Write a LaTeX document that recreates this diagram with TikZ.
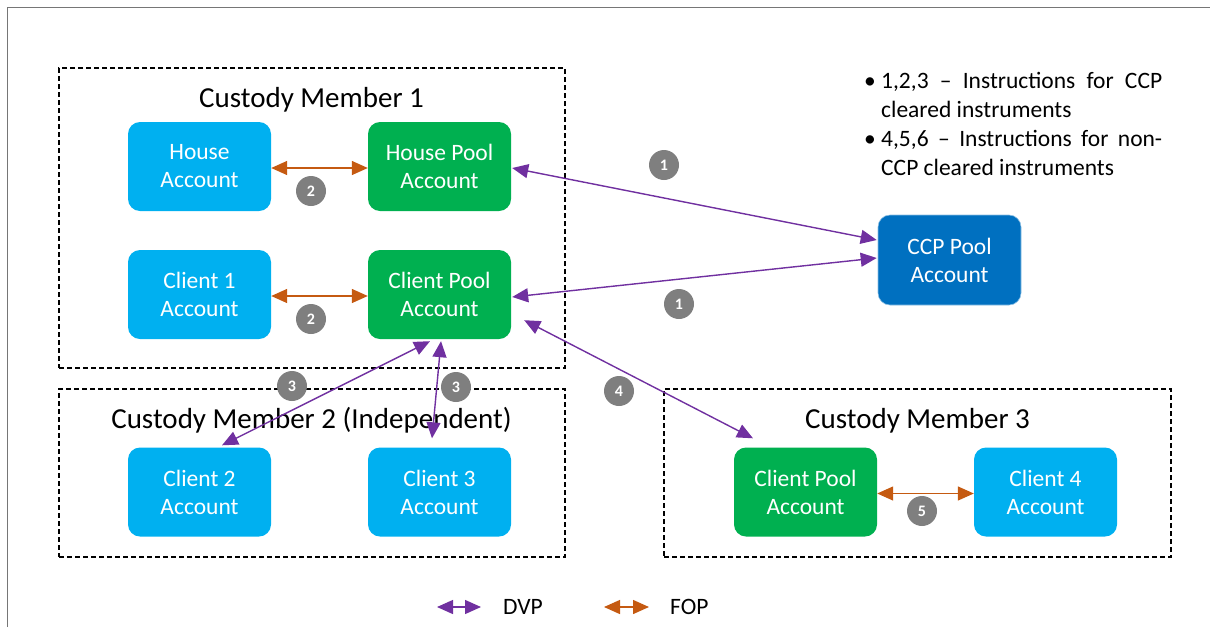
\documentclass[tikz,border=0pt]{standalone}
\usepackage{fontspec}
\setmainfont{Carlito}
\usetikzlibrary{arrows.meta}
\definecolor{acctblue}{HTML}{00B0F0}
\definecolor{poolgreen}{HTML}{00B050}
\definecolor{ccpblue}{HTML}{0070C0}
\definecolor{dvpcol}{HTML}{7030A0}
\definecolor{fopcol}{HTML}{C55A11}
\definecolor{badgegray}{HTML}{7F7F7F}
\definecolor{framegray}{HTML}{767676}
\begin{document}
\begin{tikzpicture}[x=1pt,y=-1pt,
  >={Triangle[length=16pt,width=14pt]},
  acct/.style={rounded corners=12pt, minimum width=143pt, minimum height=89pt,
    inner sep=0pt, text=white, align=center,
    font=\fontsize{23.5}{28}\selectfont},
  houseacct/.style={acct, fill=acctblue},
  poolacct/.style={acct, fill=poolgreen},
  ccpacct/.style={acct, fill=ccpblue, draw=ccpblue!45!white, line width=0.6pt, minimum height=90pt},
  memberbox/.style={draw=black, line width=1.1pt, dash pattern=on 5pt off 3pt, inner sep=0pt},
  membertitle/.style={anchor=base, inner sep=0pt, font=\fontsize{29}{34}\selectfont},
  badge/.style={circle, fill=badgegray, text=white, minimum size=30pt, inner sep=0pt,
    font=\fontsize{16}{16}\bfseries\selectfont},
  dvp/.style={draw=dvpcol, line width=1.4pt, <->},
  fop/.style={draw=fopcol, line width=1.4pt, <->},
  legendtext/.style={anchor=west, inner sep=0pt, font=\fontsize{23.5}{28}\selectfont}
]
\useasboundingbox (0,0) rectangle (1210,627);

% page frame (top and left edges)
\draw[framegray, line width=1.6pt] (7.5,627) -- (7.5,7.5) -- (1210,7.5);

% custody member groups
\node[memberbox, minimum width=506pt, minimum height=300pt] (cm1) at (312,218) {};
\node[memberbox, minimum width=506pt, minimum height=168pt] (cm2) at (312,473) {};
\node[memberbox, minimum width=507pt, minimum height=168pt] (cm3) at (917.5,473) {};

\node[membertitle] (t1) at (311.5,107) {Custody Member 1};
\node[membertitle] (t2) at (311.5,428) {Custody Member 2 (Independent)};
\node[membertitle] (t3) at (917.5,428) {Custody Member 3};

% accounts
\node[houseacct] (ha)  at (199.5,166.5) {House\\Account};
\node[poolacct]  (hp)  at (439.5,166.5) {House Pool\\Account};
\node[houseacct] (c1)  at (199.5,294.5) {Client 1\\Account};
\node[poolacct]  (cp1) at (439.5,294.5) {Client Pool\\Account};
\node[ccpacct]   (ccp) at (949.5,260)   {CCP Pool\\Account};
\node[houseacct] (c2)  at (199.5,492)   {Client 2\\Account};
\node[houseacct] (c3)  at (439.5,492)   {Client 3\\Account};
\node[poolacct]  (p3)  at (805.5,492)   {Client Pool\\Account};
\node[houseacct] (c4)  at (1045.5,492)  {Client 4\\Account};

% free-of-payment transfers
\draw[fop] ([yshift=-1.5pt]ha.east) -- ([yshift=-1.5pt]hp.west);
\draw[fop] ([yshift=-1.5pt]c1.east) -- ([yshift=-1.5pt]cp1.west);
\draw[fop] ([yshift=-1.5pt]p3.east) -- ([yshift=-1.5pt]c4.west);

% delivery-versus-payment transfers
\draw[dvp] ([xshift=1pt,yshift=-1.5pt]hp.east) -- ([xshift=-1pt,yshift=20pt]ccp.west);
\draw[dvp] ([xshift=1pt,yshift=-2.5pt]cp1.east) -- ([xshift=-1pt,yshift=2pt]ccp.west);
\draw[dvp] ([xshift=-9.5pt,yshift=-2pt]cp1.south) -- ([xshift=22.5pt,yshift=2pt]c2.north);
\draw[dvp] ([xshift=1.5pt,yshift=-2pt]cp1.south) -- ([xshift=-7.5pt,yshift=9pt]c3.north);
\draw[dvp] ([xshift=13pt,yshift=19pt]cp1.south east) -- ([xshift=-52.5pt,yshift=9pt]p3.north);

% instruction numbers
\node[badge] (n2a) at (311,191) {2};
\node[badge] (n2b) at (311,319) {2};
\node[badge] (n1a) at (664,165) {1};
\node[badge] (n1b) at (679,304) {1};
\node[badge] (n3a) at (292,386) {3};
\node[badge] (n3b) at (456,387) {3};
\node[badge] (n4)  at (619,391) {4};
\node[badge] (n5)  at (922,511) {5};

% notes
\node[anchor=base west, inner sep=0pt] (notes) at (864,88) {%
  \fontsize{23.5}{29.2}\selectfont
  \begin{tabular}[t]{@{}l@{}l@{}}
    \makebox[17pt][l]{•} & \makebox[281pt][s]{1,2,3 – Instructions for CCP}\\
                         & cleared instruments\\
    \makebox[17pt][l]{•} & \makebox[281pt][s]{4,5,6 – Instructions for non-}\\
                         & CCP cleared instruments
  \end{tabular}};

% legend
\coordinate (dvpL) at (437,607);
\coordinate (dvpR) at (481,607);
\coordinate (fopL) at (604,607);
\coordinate (fopR) at (649,607);
\draw[dvp] (dvpL) -- (dvpR);
\draw[fop] (fopL) -- (fopR);
\node[legendtext] (dvptext) at (503,607) {DVP};
\node[legendtext] (foptext) at (670,607) {FOP};
\end{tikzpicture}
\end{document}
